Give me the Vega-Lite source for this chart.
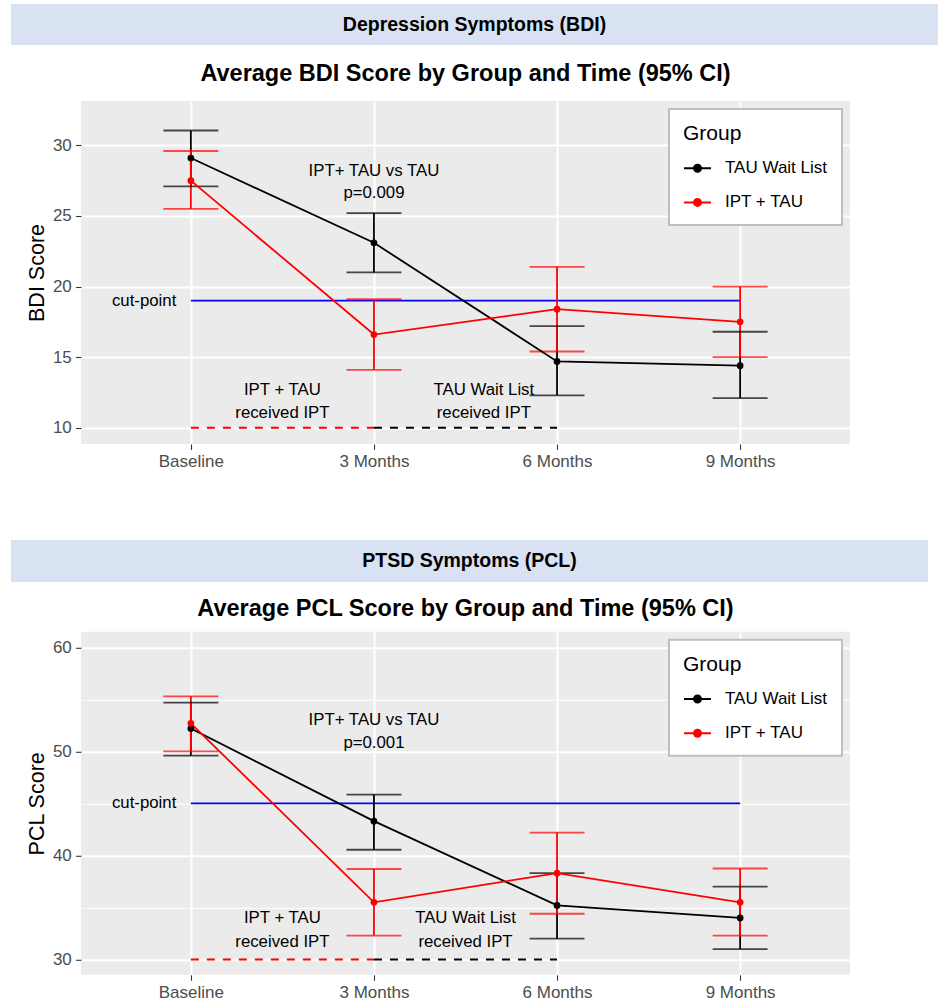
{
  "$schema": "https://vega.github.io/schema/vega-lite/v6.json",
  "padding": {"left": 11, "top": 4, "right": 0, "bottom": 0},
  "background": "white",
  "config": {"font": "Liberation Sans", "view": {"stroke": null}},
  "datasets": {
    "bdi": [
      {"group": "TAU Wait List", "visit": 1, "time": "Baseline", "mean": 29.1, "lo": 27.1, "hi": 31.05},
      {"group": "TAU Wait List", "visit": 2, "time": "3 Months", "mean": 23.1, "lo": 21.0, "hi": 25.2},
      {"group": "TAU Wait List", "visit": 3, "time": "6 Months", "mean": 14.7, "lo": 12.3, "hi": 17.2},
      {"group": "TAU Wait List", "visit": 4, "time": "9 Months", "mean": 14.4, "lo": 12.1, "hi": 16.8},
      {"group": "IPT + TAU", "visit": 1, "time": "Baseline", "mean": 27.5, "lo": 25.5, "hi": 29.6},
      {"group": "IPT + TAU", "visit": 2, "time": "3 Months", "mean": 16.6, "lo": 14.1, "hi": 19.1},
      {"group": "IPT + TAU", "visit": 3, "time": "6 Months", "mean": 18.4, "lo": 15.4, "hi": 21.4},
      {"group": "IPT + TAU", "visit": 4, "time": "9 Months", "mean": 17.5, "lo": 15.0, "hi": 20.0}
    ],
    "pcl": [
      {"group": "TAU Wait List", "visit": 1, "time": "Baseline", "mean": 52.2, "lo": 49.6, "hi": 54.7},
      {"group": "TAU Wait List", "visit": 2, "time": "3 Months", "mean": 43.3, "lo": 40.55, "hi": 45.85},
      {"group": "TAU Wait List", "visit": 3, "time": "6 Months", "mean": 35.2, "lo": 32.0, "hi": 38.3},
      {"group": "TAU Wait List", "visit": 4, "time": "9 Months", "mean": 34.0, "lo": 31.0, "hi": 37.0},
      {"group": "IPT + TAU", "visit": 1, "time": "Baseline", "mean": 52.7, "lo": 50.0, "hi": 55.3},
      {"group": "IPT + TAU", "visit": 2, "time": "3 Months", "mean": 35.5, "lo": 32.3, "hi": 38.7},
      {"group": "IPT + TAU", "visit": 3, "time": "6 Months", "mean": 38.3, "lo": 34.4, "hi": 42.2},
      {"group": "IPT + TAU", "visit": 4, "time": "9 Months", "mean": 35.5, "lo": 32.3, "hi": 38.75}
    ],
    "bdi_cut": [{"from": 1, "to": 4, "score": 19}],
    "pcl_cut": [{"from": 1, "to": 4, "score": 45}],
    "bdi_ipt": [
      {"group": "IPT + TAU", "from": 1, "to": 2, "score": 10},
      {"group": "TAU Wait List", "from": 2, "to": 3, "score": 10}
    ],
    "pcl_ipt": [
      {"group": "IPT + TAU", "from": 1, "to": 2, "score": 30},
      {"group": "TAU Wait List", "from": 2, "to": 3, "score": 30}
    ],
    "bdi_notes": [
      {"label": "IPT+ TAU vs TAU", "visit": 2, "score": 28.2},
      {"label": "p=0.009", "visit": 2, "score": 26.6},
      {"label": "IPT + TAU", "visit": 1.5, "score": 12.7},
      {"label": "received IPT", "visit": 1.5, "score": 11.05},
      {"label": "TAU Wait List", "visit": 2.6, "score": 12.7},
      {"label": "received IPT", "visit": 2.6, "score": 11.05},
      {"label": "cut-point", "visit": 0.745, "score": 19}
    ],
    "pcl_notes": [
      {"label": "IPT+ TAU vs TAU", "visit": 2, "score": 53.0},
      {"label": "p=0.001", "visit": 2, "score": 50.8},
      {"label": "IPT + TAU", "visit": 1.5, "score": 34.0},
      {"label": "received IPT", "visit": 1.5, "score": 31.7},
      {"label": "TAU Wait List", "visit": 2.5, "score": 34.0},
      {"label": "received IPT", "visit": 2.5, "score": 31.7},
      {"label": "cut-point", "visit": 0.745, "score": 45}
    ],
    "empty": []
  },
  "resolve": {
    "scale": {"x": "independent", "y": "independent", "color": "independent"},
    "axis": {"x": "independent", "y": "independent"},
    "legend": {"color": "independent"}
  },
  "spacing": 70,
  "vconcat": [
    {
      "spacing": 16,
      "resolve": {"scale": {"color": "independent"}, "legend": {"color": "independent"}},
      "vconcat": [
        {
          "width": 927,
          "height": 41,
          "view": {"fill": "#D9E2F3", "stroke": null},
          "data": {"values": [{"label": "Depression Symptoms (BDI)"}]},
          "mark": {"type": "text", "fontSize": 19.5, "fontWeight": "bold", "color": "black"},
          "encoding": {"text": {"field": "label"}}
        },
        {
          "spacing": 14,
          "resolve": {"scale": {"color": "independent"}, "legend": {"color": "independent"}},
          "hconcat": [
            {"width": 1, "height": 1, "data": {"name": "empty"}, "mark": "point"},
            {
              "width": 769,
              "height": 343,
              "view": {"fill": "#EBEBEB", "stroke": null},
              "title": {"text": "Average BDI Score by Group and Time (95% CI)", "fontSize": 23.5, "fontWeight": "bold", "color": "black", "frame": "group", "anchor": "middle", "offset": 15.7},
              "layer": [
                {
                  "data": {"name": "bdi_cut"},
                  "mark": {"type": "rule", "color": "#0000FF", "strokeWidth": 1.8},
                  "encoding": {
                    "x": {"field": "from", "type": "quantitative", "title": null,
                      "scale": {"domain": [0.4, 4.6], "nice": false, "zero": false},
                      "axis": {"values": [1, 2, 3, 4], "labelExpr": "['', 'Baseline', '3 Months', '6 Months', '9 Months'][datum.value]", "labelFontSize": 17, "labelColor": "#4D4D4D", "labelPadding": 4.3, "labelFlush": false, "labelOverlap": false, "tickSize": 5.4, "tickColor": "#333333", "tickWidth": 1.1, "domain": false, "grid": true, "gridColor": "white", "gridWidth": 2, "zindex": 0}},
                    "x2": {"field": "to"},
                    "y": {"field": "score", "type": "quantitative", "title": "BDI Score",
                      "scale": {"domain": [8.85, 33.14], "nice": false, "zero": false},
                      "axis": {"values": [10, 12.5, 15, 17.5, 20, 22.5, 25, 27.5, 30, 32.5], "labelExpr": "datum.value % 5 === 0 ? datum.label : ''", "labelFontSize": 17, "labelColor": "#4D4D4D", "labelPadding": 4.3, "labelFlush": false, "labelOverlap": false, "tickSize": 5.4, "tickColor": "#333333", "tickWidth": 1.1, "tickOpacity": {"condition": {"test": "datum.value % 5 !== 0", "value": 0}, "value": 1}, "domain": false, "grid": true, "gridColor": "white", "gridWidth": {"condition": {"test": "datum.value % 5 !== 0", "value": 1}, "value": 2}, "titleFontSize": 21.5, "titleFontWeight": "normal", "titleColor": "black", "titlePadding": 4, "zindex": 0}}
                  }
                },
                {
                  "data": {"name": "bdi_ipt"},
                  "mark": {"type": "rule", "strokeWidth": 1.8, "strokeDash": [8, 8]},
                  "encoding": {
                    "x": {"field": "from", "type": "quantitative"},
                    "x2": {"field": "to"},
                    "y": {"field": "score", "type": "quantitative"},
                    "color": {"field": "group", "type": "nominal"}
                  }
                },
                {
                  "data": {"name": "bdi_notes"},
                  "mark": {"type": "text", "fontSize": 16.8, "color": "black", "align": "center", "baseline": "middle"},
                  "encoding": {
                    "x": {"field": "visit", "type": "quantitative"},
                    "y": {"field": "score", "type": "quantitative"},
                    "text": {"field": "label"}
                  }
                },
                {
                  "data": {"name": "bdi"},
                  "mark": {"type": "rule", "strokeWidth": 1.8},
                  "encoding": {
                    "x": {"field": "visit", "type": "quantitative"},
                    "y": {"field": "lo", "type": "quantitative"},
                    "y2": {"field": "hi"},
                    "color": {"field": "group", "type": "nominal"}
                  }
                },
                {
                  "data": {"name": "bdi"},
                  "mark": {"type": "tick", "orient": "horizontal", "size": 55, "thickness": 1.8},
                  "encoding": {
                    "x": {"field": "visit", "type": "quantitative"},
                    "y": {"field": "lo", "type": "quantitative"},
                    "color": {"field": "group", "type": "nominal"}
                  }
                },
                {
                  "data": {"name": "bdi"},
                  "mark": {"type": "tick", "orient": "horizontal", "size": 55, "thickness": 1.8},
                  "encoding": {
                    "x": {"field": "visit", "type": "quantitative"},
                    "y": {"field": "hi", "type": "quantitative"},
                    "color": {"field": "group", "type": "nominal"}
                  }
                },
                {
                  "data": {"name": "bdi"},
                  "mark": {"type": "line", "strokeWidth": 1.8},
                  "encoding": {
                    "x": {"field": "visit", "type": "quantitative"},
                    "y": {"field": "mean", "type": "quantitative"},
                    "color": {"field": "group", "type": "nominal",
                      "scale": {"domain": ["TAU Wait List", "IPT + TAU"], "range": ["#000000", "#FF0000"]},
                      "legend": {"title": "Group", "orient": "top-right", "offset": 8, "fillColor": "white", "strokeColor": "#BFBFBF", "padding": 14, "titleFontSize": 21, "titleFontWeight": "normal", "titleColor": "black", "titlePadding": 9.7, "labelFontSize": 17, "labelColor": "black", "labelOffset": 13, "symbolSize": 729, "rowPadding": 11.2, "symbolType": "M-1,0L1,0M-0.26,0A0.26,0.26,0,1,1,0.26,0A0.26,0.26,0,1,1,-0.26,0", "symbolStrokeWidth": 2,
                        "encode": {
                          "legend": {"update": {"strokeWidth": {"value": 2}}},
                          "symbols": {"update": {"fill": {"signal": "datum.value === 'IPT + TAU' ? '#FF0000' : '#000000'"}, "stroke": {"signal": "datum.value === 'IPT + TAU' ? '#FF0000' : '#000000'"}, "opacity": {"value": 1}}}
                        }}}
                  }
                },
                {
                  "data": {"name": "bdi"},
                  "mark": {"type": "point", "filled": true, "size": 45, "opacity": 1},
                  "encoding": {
                    "x": {"field": "visit", "type": "quantitative"},
                    "y": {"field": "mean", "type": "quantitative"},
                    "color": {"field": "group", "type": "nominal"}
                  }
                }
              ]
            }
          ]
        }
      ]
    },
    {
      "spacing": 14.8,
      "resolve": {"scale": {"color": "independent"}, "legend": {"color": "independent"}},
      "vconcat": [
        {
          "width": 917,
          "height": 42,
          "view": {"fill": "#D9E2F3", "stroke": null},
          "data": {"values": [{"label": "PTSD Symptoms (PCL)"}]},
          "mark": {"type": "text", "fontSize": 19.5, "fontWeight": "bold", "color": "black"},
          "encoding": {"text": {"field": "label"}}
        },
        {
          "spacing": 14,
          "resolve": {"scale": {"color": "independent"}, "legend": {"color": "independent"}},
          "hconcat": [
            {"width": 1, "height": 1, "data": {"name": "empty"}, "mark": "point"},
            {
              "width": 769,
              "height": 343,
              "view": {"fill": "#EBEBEB", "stroke": null},
              "title": {"text": "Average PCL Score by Group and Time (95% CI)", "fontSize": 23.5, "fontWeight": "bold", "color": "black", "frame": "group", "anchor": "middle", "offset": 10.9},
              "layer": [
                {
                  "data": {"name": "pcl_cut"},
                  "mark": {"type": "rule", "color": "#0000FF", "strokeWidth": 1.8},
                  "encoding": {
                    "x": {"field": "from", "type": "quantitative", "title": null,
                      "scale": {"domain": [0.4, 4.6], "nice": false, "zero": false},
                      "axis": {"values": [1, 2, 3, 4], "labelExpr": "['', 'Baseline', '3 Months', '6 Months', '9 Months'][datum.value]", "labelFontSize": 17, "labelColor": "#4D4D4D", "labelPadding": 4.3, "labelFlush": false, "labelOverlap": false, "tickSize": 5.4, "tickColor": "#333333", "tickWidth": 1.1, "domain": false, "grid": true, "gridColor": "white", "gridWidth": 2, "zindex": 0}},
                    "x2": {"field": "to"},
                    "y": {"field": "score", "type": "quantitative", "title": "PCL Score",
                      "scale": {"domain": [28.53, 61.5], "nice": false, "zero": false},
                      "axis": {"values": [30, 35, 40, 45, 50, 55, 60], "labelExpr": "datum.value % 10 === 0 ? datum.label : ''", "labelFontSize": 17, "labelColor": "#4D4D4D", "labelPadding": 4.3, "labelFlush": false, "labelOverlap": false, "tickSize": 5.4, "tickColor": "#333333", "tickWidth": 1.1, "tickOpacity": {"condition": {"test": "datum.value % 10 !== 0", "value": 0}, "value": 1}, "domain": false, "grid": true, "gridColor": "white", "gridWidth": {"condition": {"test": "datum.value % 10 !== 0", "value": 1}, "value": 2}, "titleFontSize": 21.5, "titleFontWeight": "normal", "titleColor": "black", "titlePadding": 4, "zindex": 0}}
                  }
                },
                {
                  "data": {"name": "pcl_ipt"},
                  "mark": {"type": "rule", "strokeWidth": 1.8, "strokeDash": [8, 8]},
                  "encoding": {
                    "x": {"field": "from", "type": "quantitative"},
                    "x2": {"field": "to"},
                    "y": {"field": "score", "type": "quantitative"},
                    "color": {"field": "group", "type": "nominal"}
                  }
                },
                {
                  "data": {"name": "pcl_notes"},
                  "mark": {"type": "text", "fontSize": 16.8, "color": "black", "align": "center", "baseline": "middle"},
                  "encoding": {
                    "x": {"field": "visit", "type": "quantitative"},
                    "y": {"field": "score", "type": "quantitative"},
                    "text": {"field": "label"}
                  }
                },
                {
                  "data": {"name": "pcl"},
                  "mark": {"type": "rule", "strokeWidth": 1.8},
                  "encoding": {
                    "x": {"field": "visit", "type": "quantitative"},
                    "y": {"field": "lo", "type": "quantitative"},
                    "y2": {"field": "hi"},
                    "color": {"field": "group", "type": "nominal"}
                  }
                },
                {
                  "data": {"name": "pcl"},
                  "mark": {"type": "tick", "orient": "horizontal", "size": 55, "thickness": 1.8},
                  "encoding": {
                    "x": {"field": "visit", "type": "quantitative"},
                    "y": {"field": "lo", "type": "quantitative"},
                    "color": {"field": "group", "type": "nominal"}
                  }
                },
                {
                  "data": {"name": "pcl"},
                  "mark": {"type": "tick", "orient": "horizontal", "size": 55, "thickness": 1.8},
                  "encoding": {
                    "x": {"field": "visit", "type": "quantitative"},
                    "y": {"field": "hi", "type": "quantitative"},
                    "color": {"field": "group", "type": "nominal"}
                  }
                },
                {
                  "data": {"name": "pcl"},
                  "mark": {"type": "line", "strokeWidth": 1.8},
                  "encoding": {
                    "x": {"field": "visit", "type": "quantitative"},
                    "y": {"field": "mean", "type": "quantitative"},
                    "color": {"field": "group", "type": "nominal",
                      "scale": {"domain": ["TAU Wait List", "IPT + TAU"], "range": ["#000000", "#FF0000"]},
                      "legend": {"title": "Group", "orient": "top-right", "offset": 8, "fillColor": "white", "strokeColor": "#BFBFBF", "padding": 14, "titleFontSize": 21, "titleFontWeight": "normal", "titleColor": "black", "titlePadding": 9.7, "labelFontSize": 17, "labelColor": "black", "labelOffset": 13, "symbolSize": 729, "rowPadding": 11.2, "symbolType": "M-1,0L1,0M-0.26,0A0.26,0.26,0,1,1,0.26,0A0.26,0.26,0,1,1,-0.26,0", "symbolStrokeWidth": 2,
                        "encode": {
                          "legend": {"update": {"strokeWidth": {"value": 2}}},
                          "symbols": {"update": {"fill": {"signal": "datum.value === 'IPT + TAU' ? '#FF0000' : '#000000'"}, "stroke": {"signal": "datum.value === 'IPT + TAU' ? '#FF0000' : '#000000'"}, "opacity": {"value": 1}}}
                        }}}
                  }
                },
                {
                  "data": {"name": "pcl"},
                  "mark": {"type": "point", "filled": true, "size": 45, "opacity": 1},
                  "encoding": {
                    "x": {"field": "visit", "type": "quantitative"},
                    "y": {"field": "mean", "type": "quantitative"},
                    "color": {"field": "group", "type": "nominal"}
                  }
                }
              ]
            }
          ]
        }
      ]
    }
  ]
}
